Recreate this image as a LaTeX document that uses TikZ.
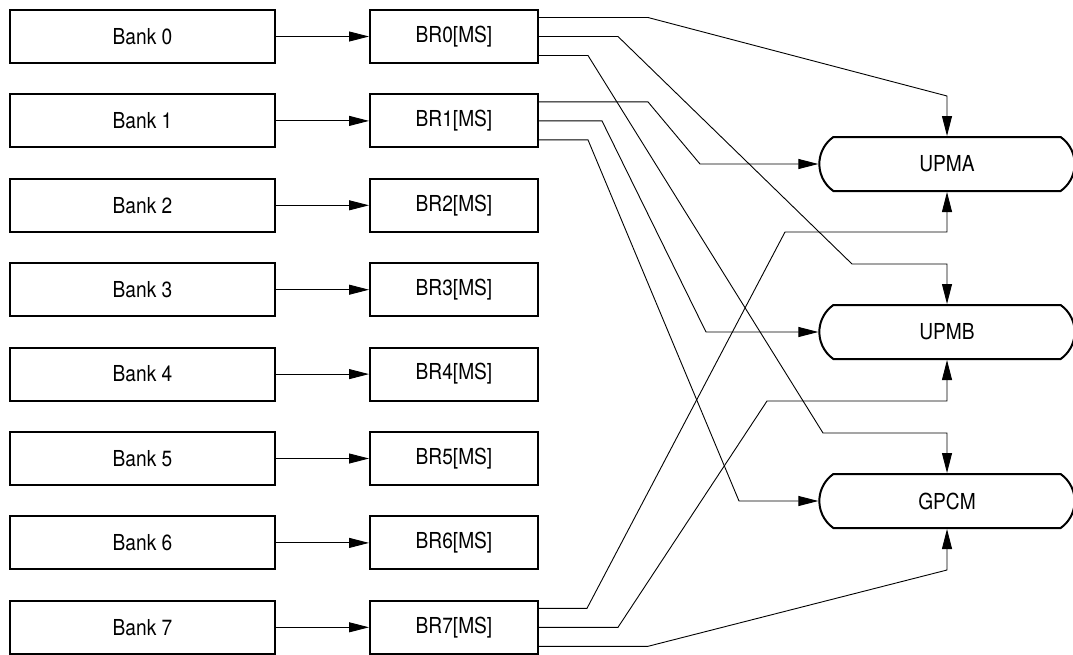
\documentclass[tikz,border=0pt]{standalone}
\usepackage{fontspec}
\setmainfont{TeX Gyre Heros}[FakeStretch=0.87]
\usetikzlibrary{arrows.meta,shapes.misc}

\begin{document}
\begin{tikzpicture}[x=1pt,y=-1pt,font=\fontsize{22}{26}\selectfont,
  box/.style={draw,line width=2pt,minimum height=53pt,inner sep=0pt},
  ctrl/.style={draw,line width=2pt,rounded rectangle,rounded rectangle arc length=110,
    minimum width=262pt,minimum height=54pt},
  wire/.style={line width=0.9pt,-{Triangle[length=20pt,width=10pt]}}]
\useasboundingbox (0,0) rectangle (1073,654);
\foreach \k in {0,...,7}{
  \node[box,minimum width=265pt] (bank\k) at (142.5,{36.5+84.4*\k}) {Bank \k};
  \node[box,minimum width=168pt] (br\k) at (454,{36.5+84.4*\k}) {BR\k[MS]};
  \draw[wire] (bank\k) -- (br\k);
}
\node[ctrl] (upma) at (947,164) {UPMA};
\node[ctrl] (upmb) at (947,332) {UPMB};
\node[ctrl] (gpcm) at (947,501) {GPCM};
% register outputs to the machines (top and bottom)
\foreach \s/\o/\l/\cx/\cy/\t in {br0/19/109/947/96/upma.north, br0/0/79/852/264/upmb.north,
    br0/-19/49/823/433/gpcm.north, br7/19/48/785/232/upma.south,
    br7/0/79/767/401/upmb.south, br7/-19/109/947/570/gpcm.south}{
  \draw[wire] ([yshift=\o]\s.east) -- ++(\l,0) -- (\cx,\cy) -| (\t);
}
% register outputs to the machines (left side)
\foreach \o/\l/\cx/\cy/\t in {19/109/700/164/upma.west, 0/63/706/332/upmb.west,
    -19/49/739/501/gpcm.west}{
  \draw[wire] ([yshift=\o]br1.east) -- ++(\l,0) -- (\cx,\cy) -- (\t);
}
\end{tikzpicture}
\end{document}
